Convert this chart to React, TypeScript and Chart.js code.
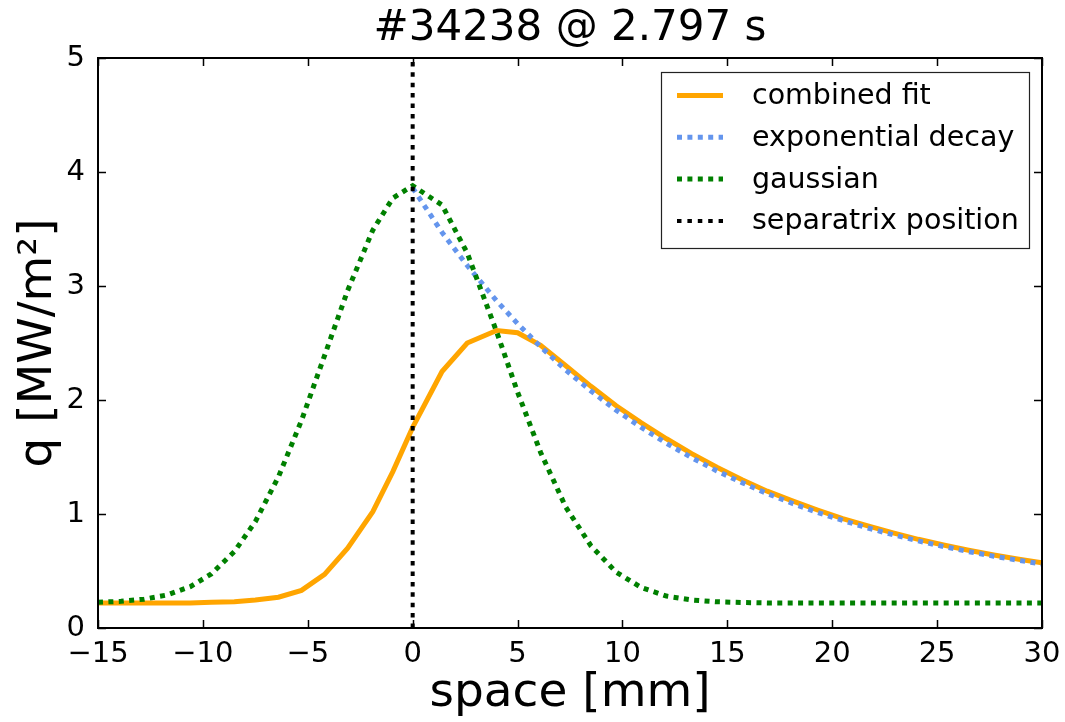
import React, { useEffect, useRef } from "react";
import { Chart, registerables } from "chart.js";

Chart.register(...registerables);

// Radial position grid [mm] shared by the fit components
const positions = [
  -15, -13.9, -12.8, -11.7, -10.6, -9.6, -8.5, -7.5, -6.4, -5.3, -4.2, -3.1, -1.9, -0.95, 0,
  1.4, 2.6, 4.0, 5.0, 6.1, 7.3, 8.5, 9.7, 10.9, 12.1, 13.3, 14.5, 15.7, 16.9, 18.1, 19.3,
  20.5, 21.7, 22.9, 24.1, 25.3, 26.5, 27.7, 28.9, 30,
];

// Heat flux q [MW/m^2]
const combinedFit = [
  0.22, 0.22, 0.22, 0.22, 0.22, 0.225, 0.23, 0.245, 0.27, 0.33, 0.47, 0.7, 1.02, 1.37, 1.76,
  2.25, 2.5, 2.61, 2.59, 2.48, 2.3, 2.12, 1.95, 1.8, 1.66, 1.53, 1.41, 1.3, 1.2, 1.115, 1.035,
  0.96, 0.895, 0.835, 0.778, 0.728, 0.682, 0.64, 0.603, 0.572,
];

const decayPositions = [
  0, 1.4, 2.6, 4.0, 5.0, 6.1, 7.3, 8.5, 9.7, 10.9, 12.1, 13.3, 14.5, 15.7, 16.9, 18.1, 19.3,
  20.5, 21.7, 22.9, 24.1, 25.3, 26.5, 27.7, 28.9, 30,
];
const exponentialDecay = [
  3.86, 3.47, 3.18, 2.87, 2.67, 2.466, 2.263, 2.079, 1.911, 1.759, 1.62, 1.494, 1.378, 1.275,
  1.179, 1.093, 1.014, 0.943, 0.877, 0.818, 0.764, 0.715, 0.67, 0.63, 0.593, 0.562,
];

const gaussian = [
  0.226, 0.234, 0.253, 0.29, 0.363, 0.474, 0.67, 0.933, 1.325, 1.82, 2.39, 2.96, 3.49, 3.77, 3.88,
  3.71, 3.29, 2.6, 2.07, 1.54, 1.06, 0.72, 0.49, 0.355, 0.28, 0.246, 0.23, 0.224, 0.22, 0.22, 0.22,
  0.22, 0.22, 0.22, 0.22, 0.22, 0.22, 0.22, 0.22, 0.22,
];

const separatrixX = [0, 0];
const separatrixY = [0, 5];

const legendLabels = ["combined fit", "exponential decay", "gaussian", "separatrix position"];

const titleText = "#34238 @ 2.797 s";
const xTitle = "space [mm]";
const yTitle = "q [MW/m²]";

const FONT = "'DejaVu Sans', 'Liberation Sans', sans-serif";

const toPoints = (xs: number[], ys: number[]) => xs.map((x, i) => ({ x, y: ys[i] }));

const fmt = (v: number) => (v < 0 ? "\u2212" + Math.abs(v) : String(v));

// Box frame with inward ticks on all four sides
const frameTicks = {
  id: "frameTicks",
  afterDatasetsDraw(chart: any) {
    const { ctx, chartArea: a, scales } = chart;
    const x = scales.x;
    const y = scales.y;
    const len = 8;
    ctx.save();
    ctx.strokeStyle = "#000";
    ctx.lineWidth = 1.5;
    ctx.beginPath();
    x.ticks.forEach((t: any) => {
      const px = Math.round(x.getPixelForValue(t.value)) + 0.5;
      ctx.moveTo(px, a.bottom);
      ctx.lineTo(px, a.bottom - len);
      ctx.moveTo(px, a.top);
      ctx.lineTo(px, a.top + len);
    });
    y.ticks.forEach((t: any) => {
      const py = Math.round(y.getPixelForValue(t.value)) + 0.5;
      ctx.moveTo(a.left, py);
      ctx.lineTo(a.left + len, py);
      ctx.moveTo(a.right, py);
      ctx.lineTo(a.right - len, py);
    });
    ctx.stroke();
    ctx.lineWidth = 2;
    ctx.strokeRect(a.left, a.top, a.right - a.left, a.bottom - a.top);
    ctx.restore();
  },
};

// Framed legend in the upper right corner of the plot area
const boxLegend = {
  id: "boxLegend",
  afterDraw(chart: any) {
    const { ctx, chartArea: a } = chart;
    const left = a.right - 381;
    const top = a.top + 14;
    const w = 368;
    const h = 176;
    ctx.save();
    ctx.fillStyle = "#fff";
    ctx.fillRect(left, top, w, h);
    ctx.strokeStyle = "#222";
    ctx.lineWidth = 1.2;
    ctx.strokeRect(left + 0.5, top + 0.5, w, h);
    const rowY = [23.5, 65.3, 107.1, 148.9];
    const ds = chart.data.datasets;
    ds.forEach((d: any, i: number) => {
      const cy = top + rowY[i];
      ctx.beginPath();
      ctx.strokeStyle = d.borderColor;
      ctx.lineWidth = d.borderWidth;
      ctx.lineCap = "butt";
      ctx.setLineDash(d.borderDash || []);
      ctx.moveTo(left + 16, cy);
      ctx.lineTo(left + 62, cy);
      ctx.stroke();
      ctx.setLineDash([]);
      ctx.fillStyle = "#000";
      ctx.font = `28.5px ${FONT}`;
      ctx.textBaseline = "middle";
      ctx.textAlign = "left";
      ctx.fillText(legendLabels[i], left + 91, cy + 1);
    });
    ctx.restore();
  },
};

export default function App() {
  const ref = useRef<HTMLCanvasElement | null>(null);

  useEffect(() => {
    if (!ref.current) return;
    Chart.defaults.font.family = FONT;
    Chart.defaults.color = "#000";
    const chart = new Chart(ref.current, {
      type: "line",
      data: {
        datasets: [
          {
            label: legendLabels[0],
            data: toPoints(positions, combinedFit),
            borderColor: "#FFA500",
            borderWidth: 5,
            order: 3,
          },
          {
            label: legendLabels[1],
            data: toPoints(decayPositions, exponentialDecay),
            borderColor: "#6495ED",
            borderWidth: 5,
            borderDash: [5, 5.4],
            order: 2,
          },
          {
            label: legendLabels[2],
            data: toPoints(positions, gaussian),
            borderColor: "#008000",
            borderWidth: 5,
            borderDash: [5, 5.4],
            order: 1,
          },
          {
            label: legendLabels[3],
            data: toPoints(separatrixX, separatrixY),
            borderColor: "#000000",
            borderWidth: 4,
            borderDash: [4.5, 5.9],
            order: 0,
          },
        ] as any,
      },
      options: {
        responsive: false,
        animation: false,
        parsing: false as any,
        elements: {
          point: { radius: 0, hoverRadius: 0 },
          line: { tension: 0, fill: false, borderCapStyle: "butt" },
        },
        layout: { padding: { left: 0, right: 23, top: 0, bottom: 0 } },
        plugins: {
          legend: { display: false },
          tooltip: { enabled: false },
          title: {
            display: true,
            fullSize: false,
            text: titleText,
            color: "#000",
            font: { size: 42, weight: "normal", family: FONT },
            padding: { top: 4, bottom: 3.6 },
          },
        },
        scales: {
          x: {
            type: "linear",
            min: -15,
            max: 30,
            grid: { display: false, drawTicks: false },
            border: { display: false },
            ticks: {
              stepSize: 5,
              padding: 9,
              color: "#000",
              font: { size: 29, family: FONT },
              callback: (v: any) => fmt(Number(v)),
            },
            title: {
              display: true,
              text: xTitle,
              color: "#000",
              font: { size: 47, family: FONT },
              padding: { top: 0, bottom: 0 },
            },
            afterFit: (s: any) => {
              s.height = 94;
              s.paddingLeft = 0;
              s.paddingRight = 0;
            },
          },
          y: {
            type: "linear",
            min: 0,
            max: 5,
            grid: { display: false, drawTicks: false },
            border: { display: false },
            ticks: {
              stepSize: 1,
              padding: 13,
              color: "#000",
              font: { size: 29, family: FONT },
              callback: (v: any) => fmt(Number(v)),
            },
            title: {
              display: true,
              text: yTitle,
              color: "#000",
              font: { size: 47, family: FONT },
              padding: { top: 11, bottom: 0 },
            },
            afterFit: (s: any) => {
              s.width = 98;
              s.paddingTop = 0;
              s.paddingBottom = 0;
            },
          },
        },
      },
      plugins: [frameTicks, boxLegend],
    } as any);
    return () => chart.destroy();
  }, []);

  return (
    <div
      style={{
        position: "fixed",
        left: 0,
        top: 0,
        width: 1065,
        height: 722,
        background: "#fff",
      }}
    >
      <canvas ref={ref} width={1065} height={722} style={{ width: 1065, height: 722 }} />
    </div>
  );
}
